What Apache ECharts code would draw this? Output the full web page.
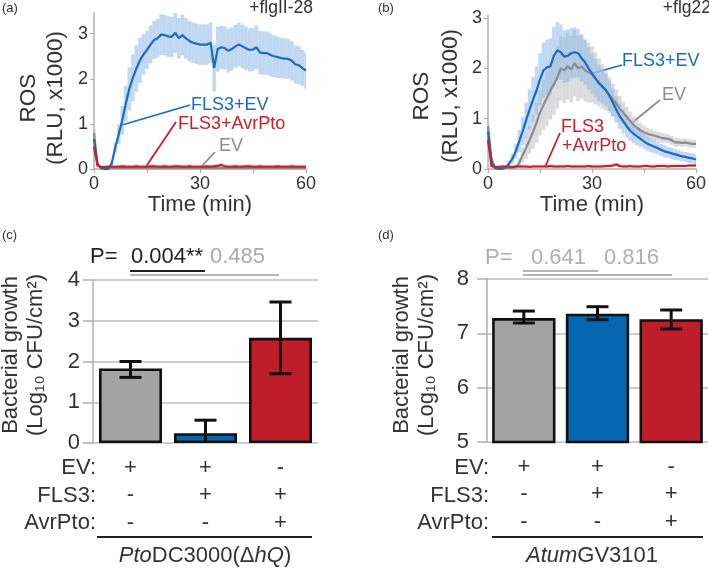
<!DOCTYPE html>
<html>
<head>
<meta charset="utf-8">
<script src="https://cdn.jsdelivr.net/npm/echarts@6/dist/echarts.min.js"></script>
<style>html,body{margin:0;padding:0;background:#fff;}#c{width:709px;height:568px;}</style>
</head>
<body>
<div id="c"></div>
<script>
// ---------- DATA ----------
const time = [0,1,2,3,4,5,6,7,8,9,10,11,12,13,14,15,16,17,18,19,20,21,22,23,24,25,26,27,28,29,30,
  31,32,33,34,35,36,37,38,39,40,41,42,43,44,45,46,47,48,49,50,51,52,53,54,55,56,57,58,59,60];
const timeTicks = [0,15,30,45,60];
const timeLabels = [0,30,60];
const rosTicks = [0,1,2,3];

// Panel (a) +flgII-28
const blueA = [0.67,0.10,0.02,0.00,0.00,0.12,0.47,0.77,1.08,1.45,
  1.78,2.02,2.23,2.41,2.54,2.64,2.76,2.86,2.90,2.98,
  2.97,2.94,2.93,3.02,2.90,2.97,2.90,2.84,2.80,2.78,
  2.76,2.76,2.76,2.80,2.24,2.66,2.70,2.68,2.62,2.66,
  2.72,2.76,2.72,2.68,2.64,2.65,2.70,2.58,2.57,2.57,
  2.53,2.50,2.48,2.46,2.45,2.44,2.40,2.32,2.30,2.24,2.18];
const blueAErr = [0.05,0.03,0.02,0.02,0.02,0.05,0.12,0.22,0.32,0.40,
  0.48,0.52,0.52,0.50,0.45,0.42,0.42,0.42,0.43,0.45,
  0.45,0.45,0.45,0.45,0.45,0.45,0.45,0.45,0.45,0.45,
  0.45,0.45,0.45,0.45,0.52,0.50,0.48,0.48,0.48,0.48,
  0.48,0.48,0.48,0.48,0.48,0.48,0.48,0.48,0.48,0.48,
  0.48,0.46,0.46,0.45,0.45,0.44,0.44,0.42,0.42,0.40,0.40];
const redA = [0.50,0.08,0.04,0.04,0.05,0.05,0.05,0.05,0.06,0.05,
  0.05,0.05,0.06,0.05,0.05,0.05,0.06,0.06,0.05,0.05,
  0.06,0.05,0.05,0.06,0.06,0.05,0.05,0.06,0.05,0.05,
  0.05,0.05,0.06,0.05,0.06,0.07,0.09,0.06,0.05,0.05,
  0.06,0.05,0.05,0.06,0.06,0.05,0.05,0.06,0.05,0.05,
  0.05,0.05,0.06,0.05,0.05,0.05,0.06,0.05,0.05,0.05,0.05];
const redAErr = [0.05,0.04,0.04,0.04,0.04,0.04,0.04,0.04,0.04,0.04,
  0.04,0.04,0.04,0.04,0.04,0.04,0.04,0.04,0.04,0.04,
  0.04,0.04,0.04,0.04,0.04,0.04,0.04,0.04,0.04,0.04,
  0.04,0.04,0.04,0.04,0.04,0.04,0.04,0.04,0.04,0.04,
  0.04,0.04,0.04,0.04,0.04,0.04,0.04,0.04,0.04,0.04,
  0.04,0.04,0.04,0.04,0.04,0.04,0.04,0.04,0.04,0.04,0.04];
const grayA = [0.80,0.10,0.03,0.02,0.02,0.02,0.02,0.02,0.02,0.02,
  0.02,0.02,0.02,0.02,0.02,0.02,0.02,0.02,0.02,0.02,
  0.02,0.02,0.02,0.02,0.02,0.02,0.02,0.02,0.02,0.02,
  0.02,0.02,0.02,0.02,0.02,0.02,0.02,0.02,0.02,0.02,
  0.02,0.02,0.02,0.02,0.02,0.02,0.02,0.02,0.02,0.02,
  0.02,0.02,0.02,0.02,0.02,0.02,0.02,0.02,0.02,0.02,0.02];
const grayAErr = [0.08,0.05,0.02,0.02,0.02,0.02,0.02,0.02,0.02,0.02,
  0.02,0.02,0.02,0.02,0.02,0.02,0.02,0.02,0.02,0.02,
  0.02,0.02,0.02,0.02,0.02,0.02,0.02,0.02,0.02,0.02,
  0.02,0.02,0.02,0.02,0.02,0.02,0.02,0.02,0.02,0.02,
  0.02,0.02,0.02,0.02,0.02,0.02,0.02,0.02,0.02,0.02,
  0.02,0.02,0.02,0.02,0.02,0.02,0.02,0.02,0.02,0.02,0.02];

// Panel (b) +flg22
const blueB = [0.75,0.15,0.02,0.00,0.00,0.03,0.10,0.20,0.35,0.55,
  0.75,0.97,1.18,1.38,1.56,1.78,1.96,2.02,2.04,2.25,
  2.36,2.32,2.23,2.25,2.30,2.32,2.30,2.20,2.12,2.00,
  1.90,1.80,1.70,1.64,1.57,1.46,1.32,1.18,1.05,0.95,
  0.85,0.76,0.70,0.65,0.60,0.55,0.50,0.47,0.44,0.41,
  0.38,0.35,0.33,0.31,0.29,0.27,0.25,0.24,0.22,0.21,0.19];
const blueBErr = [0.05,0.03,0.02,0.02,0.02,0.03,0.06,0.10,0.15,0.22,
  0.28,0.35,0.40,0.45,0.48,0.52,0.55,0.55,0.56,0.58,
  0.56,0.55,0.52,0.52,0.50,0.50,0.48,0.46,0.44,0.42,
  0.40,0.38,0.36,0.34,0.32,0.30,0.28,0.26,0.25,0.24,
  0.22,0.20,0.19,0.18,0.16,0.15,0.14,0.13,0.13,0.12,
  0.12,0.12,0.11,0.11,0.11,0.10,0.10,0.10,0.10,0.10,0.10];
const grayB = [0.85,0.20,0.03,0.02,0.02,0.02,0.02,0.02,0.03,0.12,
  0.28,0.42,0.58,0.74,0.92,1.12,1.27,1.41,1.56,1.68,
  1.82,2.00,1.96,2.04,1.98,2.10,2.00,2.04,1.96,1.92,
  1.88,1.80,1.72,1.64,1.56,1.47,1.38,1.30,1.20,1.12,
  1.04,0.96,0.88,0.82,0.77,0.73,0.70,0.68,0.66,0.64,
  0.62,0.61,0.60,0.57,0.53,0.53,0.52,0.53,0.51,0.50,0.50];
const grayBErr = [0.05,0.04,0.02,0.02,0.02,0.02,0.02,0.02,0.03,0.08,
  0.15,0.22,0.28,0.34,0.40,0.45,0.50,0.55,0.58,0.60,
  0.62,0.64,0.65,0.66,0.66,0.66,0.65,0.64,0.62,0.60,
  0.56,0.52,0.48,0.44,0.40,0.36,0.32,0.28,0.25,0.22,
  0.20,0.18,0.16,0.15,0.14,0.13,0.12,0.11,0.10,0.10,
  0.10,0.09,0.09,0.09,0.09,0.08,0.08,0.08,0.08,0.08,0.08];
const redB = [0.58,0.06,0.04,0.04,0.05,0.05,0.05,0.04,0.05,0.05,
  0.05,0.05,0.04,0.05,0.05,0.05,0.05,0.05,0.06,0.05,
  0.05,0.05,0.05,0.06,0.05,0.05,0.05,0.05,0.05,0.06,
  0.05,0.05,0.05,0.05,0.06,0.06,0.07,0.09,0.06,0.05,
  0.05,0.06,0.05,0.05,0.05,0.06,0.06,0.05,0.05,0.06,
  0.06,0.06,0.05,0.06,0.06,0.06,0.06,0.06,0.07,0.07,0.07];
const redBErr = [0.04,0.03,0.03,0.03,0.03,0.03,0.03,0.03,0.03,0.03,
  0.03,0.03,0.03,0.03,0.03,0.03,0.03,0.03,0.03,0.03,
  0.03,0.03,0.03,0.03,0.03,0.03,0.03,0.03,0.03,0.03,
  0.03,0.03,0.03,0.03,0.03,0.03,0.03,0.03,0.03,0.03,
  0.03,0.03,0.03,0.03,0.03,0.03,0.03,0.03,0.03,0.03,
  0.03,0.03,0.03,0.03,0.03,0.03,0.03,0.03,0.03,0.03,0.03];

// Panels (c), (d) bacterial growth
const groups = ['EV', 'FLS3+EV', 'FLS3+AvrPto'];
const evSigns = ['+', '+', '-'];
const fls3Signs = ['-', '+', '+'];
const avrSigns = ['-', '-', '+'];
const growthC = [1.83, 0.24, 2.58];
const growthCLow = [1.61, -0.10, 1.70];
const growthCHigh = [2.00, 0.56, 3.46];
const growthD = [7.28, 7.36, 7.26];
const growthDLow = [7.19, 7.25, 7.08];
const growthDHigh = [7.41, 7.49, 7.43];

// ---------- STYLE ----------
const FONT = '"Liberation Sans", Arial, Helvetica, sans-serif';
const C_BLUE = '#1c6bbf', C_RED = '#c8202a', C_GRAY = '#8c8c8c';
const B_BLUE = 'rgba(140,184,232,0.55)', B_RED = 'rgba(232,140,145,0.55)', B_GRAY = 'rgba(200,200,200,0.65)';
const BAR_COLORS = ['#a3a3a3', '#0766b0', '#be1e2a'];
const TXT = '#333';
const AX = '#b0b0b0';

function pts(arr) { return time.map((t, i) => [t, arr[i]]); }
function band(arr, err) { return time.map((t, i) => [t, arr[i] - err[i], arr[i] + err[i]]); }

function bandSeries(idx, arr, err, color, z) {
  return {
    type: 'custom', xAxisIndex: idx, yAxisIndex: idx, clip: true, z: z, silent: true,
    data: band(arr, err),
    renderItem: function (params, api) {
      const t = api.value(0), lo = api.value(1), hi = api.value(2);
      const a = api.coord([t - 0.5, hi]);
      const b = api.coord([t + 0.5, lo]);
      return { type: 'rect', shape: { x: a[0], y: a[1], width: b[0] - a[0], height: b[1] - a[1] },
        style: { fill: color } };
    }
  };
}
function lineSeries(idx, arr, color, z) {
  return { type: 'line', xAxisIndex: idx, yAxisIndex: idx, data: pts(arr), showSymbol: false, z: z,
    lineStyle: { color: color, width: 2.2 }, itemStyle: { color: color }, silent: true, animation: false };
}
function errSeries(idx, low, high) {
  return {
    type: 'custom', xAxisIndex: idx, yAxisIndex: idx, clip: true, z: 10, silent: true,
    data: groups.map((g, i) => [i, low[i], high[i]]),
    renderItem: function (params, api) {
      const x = api.value(0);
      const p1 = api.coord([x, api.value(2)]);
      const p2 = api.coord([x, api.value(1)]);
      const w = 11;
      const st = { stroke: '#111', lineWidth: 3 };
      return { type: 'group', children: [
        { type: 'line', shape: { x1: p1[0], y1: p1[1], x2: p2[0], y2: p2[1] }, style: st },
        { type: 'line', shape: { x1: p1[0] - w, y1: p1[1], x2: p1[0] + w, y2: p1[1] }, style: st },
        { type: 'line', shape: { x1: p2[0] - w, y1: p2[1], x2: p2[0] + w, y2: p2[1] }, style: st }
      ] };
    }
  };
}
function barSeries(idx, vals, width) {
  return { type: 'bar', xAxisIndex: idx, yAxisIndex: idx, barWidth: width, z: 5, silent: true,
    data: vals.map((v, i) => ({ value: v, itemStyle: { color: BAR_COLORS[i] } })),
    itemStyle: { borderColor: '#111', borderWidth: 2.6 } };
}

function timeAxis(gi) {
  return { type: 'value', gridIndex: gi, min: 0, max: 60,
    axisLine: { show: true, lineStyle: { color: AX, width: 1.5 } },
    axisTick: { show: true, length: 4, customValues: timeTicks, lineStyle: { color: AX, width: 1.2 } },
    axisLabel: { customValues: timeLabels, fontSize: 18, color: TXT, fontFamily: FONT, margin: 6 },
    splitLine: { show: false },
    name: 'Time (min)', nameLocation: 'middle', nameGap: 21,
    nameTextStyle: { fontSize: 22, color: TXT, fontFamily: FONT } };
}
function rosAxis(gi, max) {
  return { type: 'value', gridIndex: gi, min: 0, max: max,
    axisLine: { show: true, lineStyle: { color: AX, width: 1.5 } },
    axisTick: { show: true, length: 4, customValues: rosTicks, lineStyle: { color: AX, width: 1.2 } },
    axisLabel: { customValues: rosTicks, fontSize: 18, color: TXT, fontFamily: FONT, margin: 6 },
    splitLine: { show: false } };
}
function catAxis(gi) {
  return { type: 'category', gridIndex: gi, data: groups,
    axisLine: { show: false }, axisTick: { show: false },
    axisLabel: { interval: 0, fontSize: 22, color: TXT, fontFamily: FONT, margin: 11, lineHeight: 27.5,
      formatter: function (v, i) { return evSigns[i] + '\n' + fls3Signs[i] + '\n' + avrSigns[i]; } } };
}
function growthAxis(gi, min, max, margin) {
  return { type: 'value', gridIndex: gi, min: min, max: max, interval: 1,
    axisLine: { show: true, lineStyle: { color: AX, width: 1.5 } },
    axisTick: { show: true, length: 10, lineStyle: { color: AX, width: 1.5 } },
    axisLabel: { fontSize: 22, color: TXT, fontFamily: FONT, margin: margin },
    splitLine: { show: true, lineStyle: { color: '#bcbcbc', width: 1.5 } } };
}

function txt(x, y, s, o) {
  return Object.assign({ type: 'text', x: x, y: y, silent: true,
    style: Object.assign({ text: s, fill: TXT, fontFamily: FONT, fontSize: 22, align: 'left', verticalAlign: 'middle' }, o || {}) });
}
function vtxt(x, y, s, size) {
  return { type: 'text', x: x, y: y, rotation: Math.PI / 2, silent: true,
    style: { text: s, fill: TXT, fontFamily: FONT, fontSize: size, align: 'center', verticalAlign: 'middle' } };
}
function seg(x1, y1, x2, y2, color, w) {
  return { type: 'line', silent: true, shape: { x1: x1, y1: y1, x2: x2, y2: y2 }, style: { stroke: color, lineWidth: w || 2 } };
}
function rtxt(x, y, rich, parts, align) {
  return { type: 'text', x: x, y: y, silent: true,
    style: { text: parts, rich: rich, fill: TXT, fontFamily: FONT, fontSize: 22, align: align || 'center', verticalAlign: 'middle' } };
}

const rich = {
  i: { fontStyle: 'italic', fontSize: 22, fontFamily: FONT, fill: TXT },
  n: { fontSize: 22, fontFamily: FONT, fill: TXT }
};
const ANN = 18;

const graphics = [
  txt(2, 8, '(a)', { fontSize: 13 }),
  txt(378, 8, '(b)', { fontSize: 13 }),
  txt(2, 235, '(c)', { fontSize: 13 }),
  txt(378, 235, '(d)', { fontSize: 13 }),
  txt(313, 8, '+flgII-28', { fontSize: 17.5, align: 'right' }),
  txt(711, 8, '+flg22', { fontSize: 17.5, align: 'right' }),
  // y titles
  vtxt(29, 98, 'ROS', 22.5), vtxt(56, 98, '(RLU, x1000)', 22.5),
  vtxt(422, 96, 'ROS', 22.5), vtxt(451, 96, '(RLU, x1000)', 22.5),
  vtxt(11, 355, 'Bacterial growth', 22), vtxt(36, 355, '(Log\u2081\u2080 CFU/cm\u00b2)', 22),
  vtxt(402, 355, 'Bacterial growth', 22), vtxt(427, 355, '(Log\u2081\u2080 CFU/cm\u00b2)', 22),
  // panel a annotations
  txt(191, 105, 'FLS3+EV', { fontSize: ANN, fill: C_BLUE }),
  seg(122, 125, 190, 105, C_BLUE, 1.8),
  txt(178, 124, 'FLS3+AvrPto', { fontSize: ANN, fill: C_RED }),
  seg(145, 168, 176, 122, C_RED, 1.8),
  txt(219, 146, 'EV', { fontSize: ANN, fill: C_GRAY }),
  seg(200, 168, 215, 152, C_GRAY, 1.8),
  // panel b annotations
  txt(622, 61, 'FLS3+EV', { fontSize: ANN, fill: C_BLUE }),
  seg(590, 74, 622, 65, C_BLUE, 1.8),
  txt(662, 95, 'EV', { fontSize: ANN, fill: C_GRAY }),
  seg(633, 122, 660, 100, C_GRAY, 1.8),
  txt(561, 127, 'FLS3', { fontSize: ANN, fill: C_RED }),
  txt(562, 146, '+AvrPto', { fontSize: ANN, fill: C_RED }),
  seg(545, 167, 560, 133, C_RED, 1.8),
  // panel c p-values
  txt(90, 257, 'P=', { fill: '#222' }),
  txt(131, 257, '0.004**', { fill: '#222' }),
  txt(210, 257, '0.485', { fill: '#aaaaaa' }),
  seg(130, 271, 205, 271, '#222', 2),
  seg(130, 275, 279, 275, '#b5b5b5', 2),
  // panel d p-values
  txt(485, 258, 'P=', { fill: '#b0b0b0' }),
  txt(531, 258, '0.641', { fill: '#b0b0b0' }),
  txt(604, 258, '0.816', { fill: '#b0b0b0' }),
  seg(523, 271, 598, 271, '#b5b5b5', 2),
  seg(523, 275, 672, 275, '#b5b5b5', 2),
  // row labels
  txt(96, 468, 'EV:', { align: 'right' }),
  txt(96, 496, 'FLS3:', { align: 'right' }),
  txt(96, 523, 'AvrPto:', { align: 'right' }),
  txt(489, 468, 'EV:', { align: 'right' }),
  txt(489, 496, 'FLS3:', { align: 'right' }),
  txt(489, 523, 'AvrPto:', { align: 'right' }),
  seg(97, 537, 312, 537, '#222', 2),
  seg(492, 537, 703, 537, '#222', 2),
  rtxt(205, 556, rich, '{i|Pto}{n|DC3000(\u0394}{i|hQ}{n|)}'),
  rtxt(592, 556, rich, '{i|Atum}{n|GV3101}')
];

const option = {
  animation: false,
  backgroundColor: '#fff',
  textStyle: { fontFamily: FONT },
  grid: [
    { left: 94, top: 13, width: 212, height: 156 },
    { left: 488, top: 15, width: 212, height: 154 },
    { left: 93, top: 280, width: 225, height: 163 },
    { left: 487, top: 279, width: 221, height: 163 }
  ],
  xAxis: [timeAxis(0), timeAxis(1), catAxis(2), catAxis(3)],
  yAxis: [rosAxis(0, 3.46), rosAxis(1, 3.06), growthAxis(2, 0, 4, 13), growthAxis(3, 5, 8, 18)],
  series: [
    bandSeries(0, grayA, grayAErr, B_GRAY, 1),
    bandSeries(0, blueA, blueAErr, B_BLUE, 1),
    bandSeries(0, redA, redAErr, B_RED, 1),
    lineSeries(0, grayA, C_GRAY, 3),
    lineSeries(0, blueA, C_BLUE, 3),
    lineSeries(0, redA, C_RED, 4),
    bandSeries(1, grayB, grayBErr, B_GRAY, 1),
    bandSeries(1, blueB, blueBErr, B_BLUE, 1),
    bandSeries(1, redB, redBErr, B_RED, 1),
    lineSeries(1, grayB, C_GRAY, 3),
    lineSeries(1, blueB, C_BLUE, 3),
    lineSeries(1, redB, C_RED, 4),
    barSeries(2, growthC, '84%'),
    errSeries(2, growthCLow, growthCHigh),
    barSeries(3, growthD, '86%'),
    errSeries(3, growthDLow, growthDHigh)
  ],
  graphic: graphics
};
const chart = echarts.init(document.getElementById('c'), null, { renderer: 'canvas' });
chart.setOption(option);
</script>
</body>
</html>
